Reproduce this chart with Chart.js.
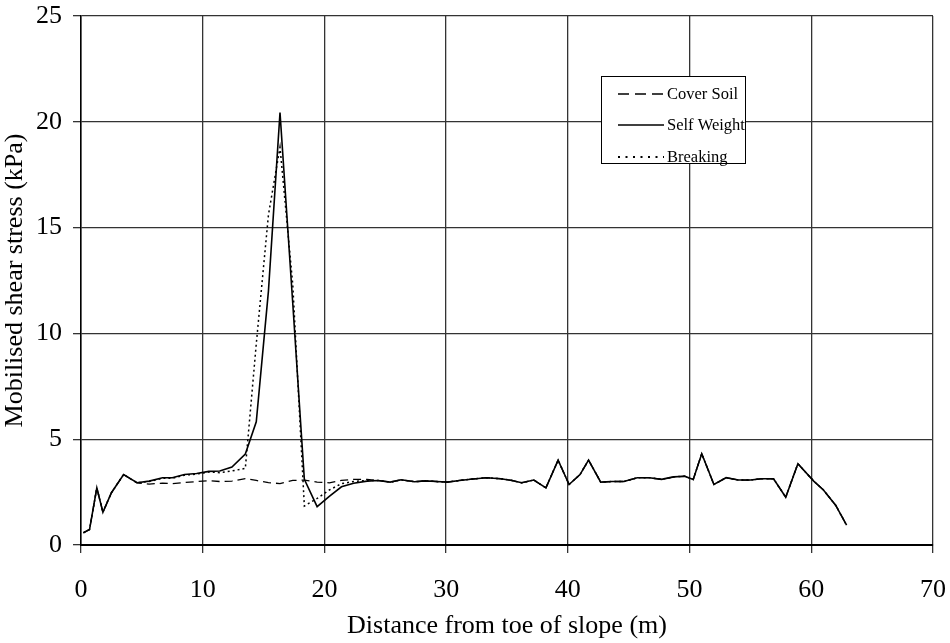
<!DOCTYPE html>
<html>
<head>
<meta charset="utf-8">
<script src="https://cdn.jsdelivr.net/npm/chart.js@4.4.1/dist/chart.umd.min.js"></script>
<style>
  html, body { margin: 0; padding: 0; background: #fff; }
  #wrap { width: 950px; height: 643px; position: relative; }
</style>
</head>
<body>
<div id="wrap"><canvas id="c" width="950" height="643"></canvas></div>
<script>
const distance = [0.2, 0.7, 1.3, 1.8, 2.5, 3.5, 4.6, 5.6, 6.7, 7.5, 8.5, 9.5, 10.5, 11.4, 12.4, 13.5, 14.4,
  15.4, 16.35, 17.4, 18.35, 19.4, 20.4, 21.4, 22.4, 23.5, 24.4, 25.4, 26.3, 27.4, 28.3, 29.2, 30.1, 31.1,
  32.2, 33.3, 34.5, 35.4, 36.2, 37.2, 38.2, 39.2, 40.1, 41.0, 41.7, 42.7, 43.6, 44.6, 45.7, 46.7, 47.7,
  48.7, 49.6, 50.3, 51.0, 52.0, 53.0, 54.0, 55.0, 55.9, 56.9, 57.9, 58.9, 60.2, 61.0, 62.0, 62.9];

const selfWeight = [0.58, 0.73, 2.7, 1.55, 2.47, 3.33, 2.94, 3.02, 3.18, 3.18, 3.33, 3.38, 3.48, 3.5, 3.68, 4.3, 5.82,
  12.0, 20.44, 11.4, 3.1, 1.81, 2.3, 2.75, 2.92, 3.02, 3.05, 2.97, 3.08, 2.99, 3.03, 3.0, 2.97, 3.05,
  3.12, 3.18, 3.13, 3.05, 2.94, 3.07, 2.7, 4.01, 2.86, 3.33, 4.01, 2.97, 3.0, 3.0, 3.18, 3.18, 3.1,
  3.22, 3.25, 3.1, 4.31, 2.86, 3.18, 3.07, 3.07, 3.13, 3.13, 2.26, 3.84, 3.02, 2.6, 1.88, 0.94];

const coverSoil = [0.58, 0.73, 2.7, 1.55, 2.47, 3.33, 2.94, 2.88, 2.92, 2.9, 2.95, 3.0, 3.04, 3.0, 3.02, 3.14, 3.05,
  2.95, 2.9, 3.05, 3.07, 2.97, 2.94, 3.05, 3.1, 3.1, 3.05, 2.97, 3.08, 2.99, 3.03, 3.0, 2.97, 3.05,
  3.12, 3.18, 3.13, 3.05, 2.94, 3.07, 2.7, 4.01, 2.86, 3.33, 4.01, 2.97, 3.0, 3.0, 3.18, 3.18, 3.1,
  3.22, 3.25, 3.1, 4.31, 2.86, 3.18, 3.07, 3.07, 3.13, 3.13, 2.26, 3.84, 3.02, 2.6, 1.88, 0.94];

const breaking = [0.58, 0.73, 2.7, 1.55, 2.47, 3.33, 2.94, 3.0, 3.15, 3.15, 3.3, 3.35, 3.45, 3.42, 3.5, 3.62, 9.5,
  15.6, 18.8, 12.3, 1.84, 2.2, 2.6, 2.9, 3.0, 3.05, 3.05, 2.97, 3.08, 2.99, 3.03, 3.0, 2.97, 3.05,
  3.12, 3.18, 3.13, 3.05, 2.94, 3.07, 2.7, 4.01, 2.86, 3.33, 4.01, 2.97, 3.0, 3.0, 3.18, 3.18, 3.1,
  3.22, 3.25, 3.1, 4.31, 2.86, 3.18, 3.07, 3.07, 3.13, 3.13, 2.26, 3.84, 3.02, 2.6, 1.88, 0.94];

const seriesNames = ['Cover Soil', 'Self Weight', 'Breaking'];
const xTitle = 'Distance from toe of slope (m)';
const yTitle = 'Mobilised shear stress (kPa)';

const FONT = "'Liberation Serif', 'Times New Roman', serif";
const pts = arr => arr.map((v, i) => ({ x: distance[i], y: v }));
const legendDash = [[11, 6], [], [2, 5.5]];

const legendBox = {
  id: 'legendBox',
  afterDatasetsDraw(chart) {
    const ctx = chart.ctx;
    const L = 601, T = 76, R = 745, B = 163;
    ctx.save();
    ctx.fillStyle = '#fff';
    ctx.fillRect(L, T, R - L, B - T);
    ctx.strokeStyle = '#000';
    ctx.lineWidth = 1;
    ctx.strokeRect(L + 0.5, T + 0.5, R - L, B - T);
    const rows = [94, 125, 157];
    chart.data.datasets.forEach((ds, i) => {
      const y = rows[i];
      ctx.beginPath();
      ctx.setLineDash(legendDash[i]);
      ctx.lineWidth = i === 2 ? 1.8 : ds.borderWidth;
      ctx.strokeStyle = '#000';
      ctx.moveTo(618, y);
      ctx.lineTo(664, y);
      ctx.stroke();
      ctx.setLineDash([]);
      ctx.fillStyle = '#000';
      ctx.font = '16.5px ' + FONT;
      ctx.textBaseline = 'middle';
      ctx.textAlign = 'left';
      ctx.fillText(ds.label, 667, y + 1);
    });
    ctx.restore();
  }
};

new Chart(document.getElementById('c'), {
  type: 'line',
  data: {
    datasets: [
      { label: seriesNames[0], data: pts(coverSoil), borderColor: '#000', borderWidth: 1.3, borderDash: [8, 5], pointRadius: 0, tension: 0, fill: false },
      { label: seriesNames[1], data: pts(selfWeight), borderColor: '#000', borderWidth: 1.6, pointRadius: 0, tension: 0, fill: false },
      { label: seriesNames[2], data: pts(breaking), borderColor: '#000', borderWidth: 1.5, borderDash: [2, 3], pointRadius: 0, tension: 0, fill: false }
    ]
  },
  options: {
    responsive: false,
    animation: false,
    devicePixelRatio: 1,
    layout: { padding: { top: 16, right: 17, left: 0, bottom: 0 } },
    plugins: { legend: { display: false }, tooltip: { enabled: false } },
    scales: {
      x: {
        type: 'linear', min: 0, max: 70,
        ticks: { stepSize: 10, color: '#000', font: { family: FONT, size: 26 }, padding: 22, maxRotation: 0 },
        grid: { color: '#333', lineWidth: 1.3, tickLength: 8 },
        border: { color: '#000', width: 2 },
        title: { display: true, text: xTitle, color: '#000', font: { family: FONT, size: 26 }, padding: { top: 0, bottom: 1 } },
        afterFit: s => { s.height = 98; s.paddingLeft = 0; s.paddingRight = 0; }
      },
      y: {
        min: 0, max: 25,
        ticks: { stepSize: 5, color: '#000', font: { family: FONT, size: 26 }, padding: 11 },
        grid: { color: '#333', lineWidth: 1.3, tickLength: 8 },
        border: { color: '#000', width: 1.5 },
        title: { display: true, text: yTitle, color: '#000', font: { family: FONT, size: 26 }, padding: { top: 0, bottom: 8 } },
        afterFit: s => { s.width = 81; s.paddingTop = 0; s.paddingBottom = 0; }
      }
    }
  },
  plugins: [legendBox]
});
</script>
</body>
</html>
